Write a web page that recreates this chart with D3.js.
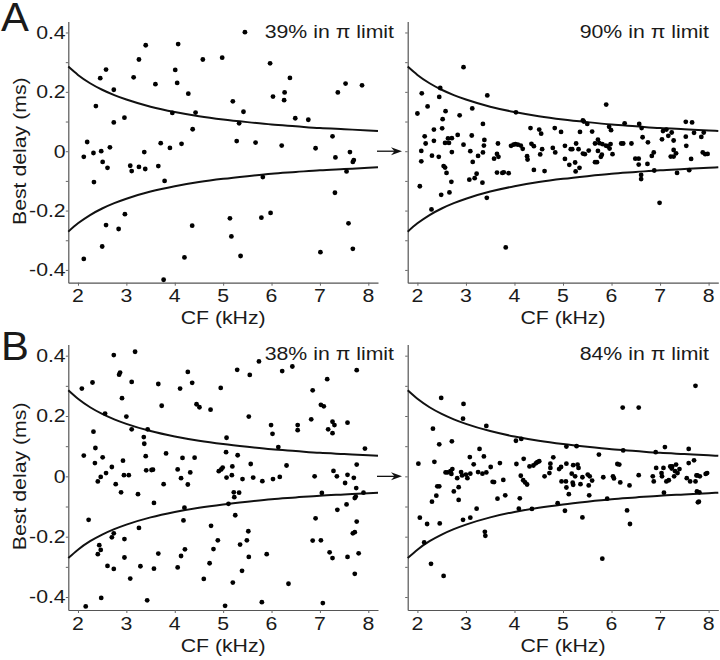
<!DOCTYPE html>
<html><head><meta charset="utf-8">
<script src="https://cdn.jsdelivr.net/npm/d3@7"></script>
<style>html,body{margin:0;padding:0;background:#fff;}svg{display:block;}</style>
</head><body>
<script>
// ---- data: [CF (kHz), best delay (ms)] ----
const preA = [[5.45,0.401],[2.12,-0.019],[2.19,0.031],[2.12,-0.363],[2.32,-0.006],[2.33,-0.104],[2.37,0.152],[2.46,0.246],[2.48,0.0],[2.51,-0.036],[2.50,-0.321],[2.58,0.275],[2.58,-0.249],[2.61,-0.056],[2.66,0.013],[2.74,0.207],[2.74,0.097],[2.84,-0.262],[2.96,0.113],[2.97,-0.212],[3.08,-0.049],[3.11,-0.067],[3.15,0.249],[3.26,0.309],[3.26,-0.053],[3.37,-0.003],[3.39,-0.060],[3.40,0.357],[3.60,0.226],[3.66,-0.050],[3.71,0.027],[3.77,-0.433],[3.79,-0.100],[3.90,0.011],[3.95,0.129],[4.01,0.274],[4.05,0.230],[4.07,0.361],[4.14,0.025],[4.20,-0.358],[4.28,0.194],[4.36,-0.251],[4.37,0.074],[4.43,0.130],[4.58,0.309],[4.98,0.315],[5.14,-0.226],[5.17,-0.287],[5.20,0.168],[5.28,0.034],[5.33,0.094],[5.36,-0.353],[5.42,0.133],[5.67,0.029],[5.79,-0.224],[5.82,-0.087],[5.97,0.296],[5.98,-0.208],[6.03,0.184],[6.21,0.019],[6.26,0.172],[6.27,0.198],[6.38,0.247],[6.49,0.111],[6.76,0.106],[6.91,0.010],[7.01,-0.340],[7.26,0.050],[7.31,-0.140],[7.32,-0.021],[7.37,0.198],[7.53,0.228],[7.55,-0.068],[7.59,-0.243],[7.62,-0.003],[7.68,-0.036],[7.70,-0.030],[7.68,-0.329],[7.87,0.222]];

const postA = [[2.00,0.127],[2.05,-0.118],[2.09,0.195],[2.08,0.001],[2.08,-0.034],[2.15,0.050],[2.17,0.026],[2.21,0.151],[2.29,-0.196],[2.30,-0.015],[2.34,0.073],[2.34,0.035],[2.44,-0.019],[2.45,0.183],[2.47,0.213],[2.49,-0.147],[2.51,0.077],[2.52,0.108],[2.54,-0.050],[2.57,-0.055],[2.57,0.028],[2.58,0.135],[2.60,-0.073],[2.63,0.043],[2.66,-0.139],[2.65,0.028],[2.70,-0.103],[2.71,0.044],[2.71,-0.003],[2.83,0.055],[2.87,0.121],[2.95,0.283],[2.95,0.022],[3.07,-0.096],[3.09,0.000],[3.12,0.053],[3.13,0.144],[3.14,-0.036],[3.18,-0.091],[3.22,-0.076],[3.25,-0.016],[3.34,-0.106],[3.35,0.092],[3.35,-0.004],[3.37,0.019],[3.38,0.038],[3.43,-0.157],[3.44,0.188],[3.58,-0.025],[3.64,-0.009],[3.64,-0.072],[3.66,0.026],[3.67,-0.019],[3.75,-0.073],[3.78,-0.071],[3.82,-0.324],[3.88,-0.074],[3.93,0.018],[3.98,0.022],[4.02,0.024],[4.03,0.131],[4.07,0.022],[4.13,0.019],[4.17,0.008],[4.26,-0.017],[4.27,-0.028],[4.33,0.078],[4.35,0.025],[4.40,-0.063],[4.40,0.017],[4.51,0.073],[4.53,-0.011],[4.55,0.059],[4.57,0.007],[4.62,-0.067],[4.79,0.011],[4.83,0.078],[4.84,-0.004],[4.96,0.065],[5.04,0.018],[5.04,-0.026],[5.13,-0.046],[5.16,0.007],[5.19,0.007],[5.25,-0.038],[5.26,-0.068],[5.27,0.026],[5.32,0.007],[5.34,-0.056],[5.35,0.065],[5.41,-0.008],[5.41,0.104],[5.43,0.100],[5.45,-0.010],[5.50,0.092],[5.53,0.002],[5.60,0.066],[5.66,0.026],[5.66,-0.037],[5.70,-0.037],[5.72,0.039],[5.72,0.001],[5.75,0.027],[5.78,-0.019],[5.80,-0.012],[5.81,0.024],[5.89,0.157],[5.88,0.019],[5.92,0.017],[5.95,0.082],[5.96,0.009],[5.99,0.071],[5.98,0.024],[6.02,-0.010],[6.20,0.026],[6.24,0.026],[6.27,0.094],[6.41,0.026],[6.49,-0.025],[6.57,0.092],[6.62,0.078],[6.56,-0.025],[6.56,-0.045],[6.61,-0.080],[6.61,-0.094],[6.64,0.047],[6.74,-0.043],[6.75,0.030],[6.83,-0.016],[6.87,-0.004],[6.88,-0.065],[6.99,-0.174],[7.04,0.040],[7.06,0.068],[7.13,0.073],[7.17,0.052],[7.22,-0.018],[7.24,0.063],[7.28,-0.018],[7.28,0.004],[7.28,0.036],[7.33,-0.007],[7.35,-0.073],[7.53,0.049],[7.53,0.099],[7.54,0.018],[7.60,-0.064],[7.64,-0.026],[7.66,0.097],[7.70,0.062],[7.85,0.048],[7.90,0.063],[7.88,-0.004],[7.93,-0.010],[7.98,-0.009]];

const preB = [[2.08,0.291],[2.12,0.069],[2.22,-0.144],[2.16,-0.431],[2.30,0.311],[2.32,0.148],[2.35,0.044],[2.36,0.094],[2.41,-0.017],[2.41,-0.258],[2.44,-0.228],[2.47,-0.244],[2.47,-0.002],[2.51,0.063],[2.56,0.208],[2.58,0.011],[2.48,-0.403],[2.61,-0.297],[2.70,0.031],[2.70,-0.202],[2.74,-0.189],[2.74,0.402],[2.74,-0.307],[2.78,-0.026],[2.85,0.337],[2.87,0.344],[2.89,-0.053],[2.91,0.259],[2.93,0.052],[2.95,0.004],[2.96,-0.208],[2.96,-0.269],[3.00,0.198],[3.05,0.004],[3.08,-0.339],[3.11,0.313],[3.11,0.156],[3.18,0.413],[3.24,-0.059],[3.26,-0.171],[3.29,-0.298],[3.36,0.130],[3.37,0.108],[3.40,0.067],[3.41,0.020],[3.44,0.156],[3.43,-0.411],[3.52,0.021],[3.55,0.022],[3.57,-0.088],[3.57,-0.306],[3.66,0.306],[3.66,-0.256],[3.73,0.234],[3.77,-0.026],[3.82,0.076],[4.06,0.023],[4.06,-0.302],[4.11,0.291],[4.13,-0.006],[4.13,-0.264],[4.16,0.061],[4.18,-0.146],[4.20,-0.104],[4.21,-0.242],[4.27,0.346],[4.27,-0.027],[4.32,0.013],[4.36,0.310],[4.41,0.062],[4.45,0.239],[4.51,0.229],[4.60,-0.340],[4.72,-0.288],[4.74,0.221],[4.75,-0.164],[4.80,-0.241],[4.89,-0.212],[4.91,0.017],[4.95,0.293],[4.96,0.023],[4.99,0.029],[5.04,-0.429],[5.07,0.128],[5.06,0.080],[5.07,-0.004],[5.11,-0.091],[5.18,0.004],[5.19,0.033],[5.20,-0.352],[5.22,-0.053],[5.23,-0.069],[5.25,-0.129],[5.29,0.353],[5.30,0.070],[5.33,-0.054],[5.35,-0.226],[5.40,-0.009],[5.39,-0.313],[5.49,-0.212],[5.52,-0.182],[5.53,0.198],[5.53,-0.267],[5.55,0.336],[5.57,0.041],[5.62,-0.004],[5.74,0.381],[5.81,-0.016],[5.80,-0.417],[5.90,-0.258],[5.99,0.170],[6.02,0.141],[6.03,-0.009],[6.14,0.097],[6.17,-0.002],[6.22,0.349],[6.31,0.036],[6.35,-0.356],[6.43,0.364],[6.54,0.153],[6.54,0.170],[6.85,0.285],[7.76,0.352],[7.15,0.322],[7.02,0.237],[7.08,0.232],[6.82,0.189],[7.26,0.181],[7.30,0.170],[7.17,0.156],[7.26,0.143],[7.57,0.178],[7.93,0.092],[7.76,0.039],[7.28,0.018],[6.89,0.000],[7.35,0.000],[7.57,0.005],[7.52,-0.022],[7.70,-0.005],[7.75,-0.039],[7.72,-0.072],[7.74,-0.067],[7.90,-0.054],[7.04,-0.055],[7.55,-0.093],[7.36,-0.111],[6.91,-0.139],[7.76,-0.150],[7.68,-0.189],[7.72,-0.185],[6.85,-0.213],[7.02,-0.212],[7.20,-0.252],[7.26,-0.271],[7.57,-0.267],[7.80,-0.255],[7.72,-0.323],[7.06,-0.420]];

const postB = [[2.02,0.042],[2.05,-0.137],[2.14,-0.219],[2.20,-0.158],[2.28,-0.290],[2.30,-0.084],[2.32,0.158],[2.35,0.048],[2.39,-0.064],[2.41,-0.033],[2.45,-0.033],[2.45,0.106],[2.46,-0.156],[2.49,0.260],[2.54,-0.330],[2.58,0.013],[2.62,0.013],[2.68,0.017],[2.70,0.008],[2.71,0.116],[2.72,0.024],[2.75,-0.050],[2.82,-0.006],[2.85,-0.036],[2.85,-0.078],[2.90,0.014],[2.92,0.003],[2.94,0.191],[2.95,0.240],[2.94,-0.144],[3.00,0.006],[3.03,-0.006],[3.09,-0.137],[3.08,0.064],[3.09,0.009],[3.16,0.040],[3.22,-0.107],[3.25,0.014],[3.28,0.091],[3.34,0.009],[3.37,0.066],[3.39,-0.184],[3.40,-0.197],[3.42,0.167],[3.42,0.013],[3.51,0.031],[3.55,-0.018],[3.58,-0.019],[3.65,-0.074],[3.70,0.044],[3.77,-0.012],[3.81,-0.063],[4.03,0.118],[4.04,0.041],[4.11,-0.073],[4.09,-0.107],[4.13,0.002],[4.14,0.124],[4.18,-0.013],[4.19,0.058],[4.22,-0.020],[4.26,-0.027],[4.31,0.033],[4.36,-0.108],[4.39,0.036],[4.44,0.043],[4.47,0.047],[4.51,0.050],[4.62,0.000],[4.72,0.011],[4.74,0.042],[4.74,0.028],[4.80,0.063],[4.89,-0.089],[4.92,0.024],[4.96,0.031],[4.97,-0.017],[5.04,-0.114],[5.06,-0.017],[5.07,0.099],[5.07,0.042],[5.07,-0.037],[5.12,-0.059],[5.18,0.009],[5.20,-0.021],[5.21,-0.028],[5.21,0.037],[5.25,0.000],[5.28,0.100],[5.30,0.039],[5.32,0.028],[5.36,-0.026],[5.40,-0.136],[5.40,-0.003],[5.51,0.006],[5.53,-0.030],[5.54,-0.063],[5.55,0.000],[5.60,-0.014],[5.74,0.072],[5.81,-0.273],[5.83,-0.003],[5.91,-0.074],[6.03,0.000],[6.05,-0.007],[6.12,0.041],[6.16,0.039],[6.18,-0.020],[6.23,0.228],[6.24,0.086],[6.32,-0.113],[6.37,-0.030],[6.38,-0.158],[6.56,0.228],[6.56,0.004],[6.85,0.000],[6.87,-0.017],[6.91,0.080],[6.92,0.028],[7.03,0.011],[7.04,0.000],[7.07,0.028],[7.08,-0.054],[7.10,0.097],[7.13,-0.017],[7.18,-0.013],[7.21,0.033],[7.24,0.026],[7.25,0.033],[7.29,0.000],[7.31,0.017],[7.33,0.039],[7.36,0.011],[7.40,0.024],[7.55,-0.006],[7.59,0.091],[7.59,0.044],[7.62,-0.017],[7.70,0.053],[7.73,0.300],[7.75,0.003],[7.77,0.003],[7.76,-0.050],[7.81,-0.053],[7.78,-0.086],[7.80,-0.084],[7.82,0.000],[7.94,0.008],[7.97,0.011],[7.73,-0.017]];

// pi-limit boundary curves
const limitCF    = [1.8, 2.0, 2.25, 2.5, 2.75, 3.0, 3.5, 4.0, 4.5, 5.0, 5.5, 6.0, 6.5, 7.0, 7.5, 8.0, 8.2];
const limitUpper = [0.285, 0.257, 0.229, 0.207, 0.189, 0.174, 0.150, 0.132, 0.118, 0.107, 0.098, 0.090, 0.084, 0.078, 0.074, 0.070, 0.068];
const limitLower = [-0.271, -0.243, -0.215, -0.193, -0.175, -0.160, -0.136, -0.118, -0.104, -0.093, -0.084, -0.076, -0.070, -0.064, -0.060, -0.056, -0.054];

const xTicks = [2, 3, 4, 5, 6, 7, 8];
const yTicks = [-0.4, -0.3, -0.2, -0.1, 0, 0.1, 0.2, 0.3, 0.4];
const yLabelTicks = [-0.4, -0.2, 0, 0.2, 0.4];
const notes = ["39% in π limit", "90% in π limit", "38% in π limit", "84% in π limit"];
const panelLetters = ["A", "B"];

// ---- layout ----
const W = 720, H = 660;
const FONT = "'Liberation Sans', Arial, Helvetica, sans-serif";
const FS = 18.5, SX = 1.15;
const xDomain = [1.8, 8.2], yDomain = [-0.443, 0.437];

const panels = [
  {data: preA,  note: notes[0], noteX: 394, noteY: 38,  xr: [68.3, 378],   yr: [282.7, 21.5], labels: true},
  {data: postA, note: notes[1], noteX: 709, noteY: 38,  xr: [407.7, 718.3], yr: [282.7, 21.5], labels: false},
  {data: preB,  note: notes[2], noteX: 394, noteY: 360, xr: [68.3, 378],   yr: [610, 344.5],  labels: true},
  {data: postB, note: notes[3], noteX: 709, noteY: 360, xr: [407.7, 718.3], yr: [610, 344.5],  labels: false}
];

const svg = d3.select("body").append("svg").attr("width", W).attr("height", H);

function txt(g, x, y, s, anchor, size, sx, rot) {
  return g.append("text")
    .attr("transform", `translate(${x},${y})` + (rot ? ` rotate(${rot})` : "") + ` scale(${sx},1)`)
    .attr("text-anchor", anchor)
    .attr("font-family", FONT)
    .attr("font-size", size)
    .attr("fill", "#1a1a1a")
    .text(s);
}

panels.forEach((p, i) => {
  const x = d3.scaleLinear().domain(xDomain).range(p.xr);
  const y = d3.scaleLinear().domain(yDomain).range(p.yr);
  const g = svg.append("g");

  // axes
  const ax = g.append("g").attr("transform", `translate(0,${p.yr[0]})`)
    .call(d3.axisBottom(x).tickValues(xTicks).tickSize(3).tickSizeOuter(0).tickFormat(""));
  const ay = g.append("g").attr("transform", `translate(${p.xr[0]},0)`)
    .call(d3.axisLeft(y).tickValues(yTicks).tickSize(2.5).tickSizeOuter(0).tickFormat(""));
  [ax, ay].forEach(a => {
    a.select(".domain").attr("stroke", "#555").attr("stroke-width", 1.2);
    a.selectAll(".tick line").attr("stroke", "#666").attr("stroke-width", 1);
  });

  // x tick labels
  xTicks.forEach(t => txt(g, x(t), p.yr[0] + 19.5, String(t), "middle", FS, SX));
  // y tick labels
  if (p.labels) {
    yLabelTicks.forEach(t => txt(g, p.xr[0] - 2.6, y(t) + 6.3, t === 0 ? "0" : t.toFixed(1), "end", FS, SX));
    txt(g, 25.5, y(0), "Best delay (ms)", "middle", FS, SX, -90);
  }
  // x title
  txt(g, (p.xr[0] + p.xr[1]) / 2, p.yr[0] + 41.5, "CF (kHz)", "middle", FS, SX);
  // note
  txt(g, p.noteX, p.noteY, p.note, "end", FS, SX);

  // limit curves
  const line = d3.line().x(d => x(d[0])).y(d => y(d[1])).curve(d3.curveMonotoneX);
  [limitUpper, limitLower].forEach(arr => {
    g.append("path")
      .datum(limitCF.map((c, k) => [c, arr[k]]))
      .attr("d", line).attr("fill", "none").attr("stroke", "#111").attr("stroke-width", 2);
  });

  // points
  g.selectAll("circle.pt").data(p.data).enter().append("circle")
    .attr("class", "pt")
    .attr("cx", d => x(d[0])).attr("cy", d => y(d[1])).attr("r", 2.4)
    .attr("fill", "#000");

  // arrow between panels (on left panels' zero line)
  if (p.labels) {
    const y0 = y(0);
    g.append("line").attr("x1", 377).attr("x2", 396).attr("y1", y0).attr("y2", y0)
      .attr("stroke", "#111").attr("stroke-width", 1.3);
    g.append("path")
      .attr("d", `M402,${y0} L391,${y0 - 4} L394.5,${y0} L391,${y0 + 4} Z`)
      .attr("fill", "#111");
  }
});

// panel letters
txt(svg, 1, 31, panelLetters[0], "start", 41, 1.02);
txt(svg, 1, 360, panelLetters[1], "start", 41, 1.02);
</script>
</body></html>
